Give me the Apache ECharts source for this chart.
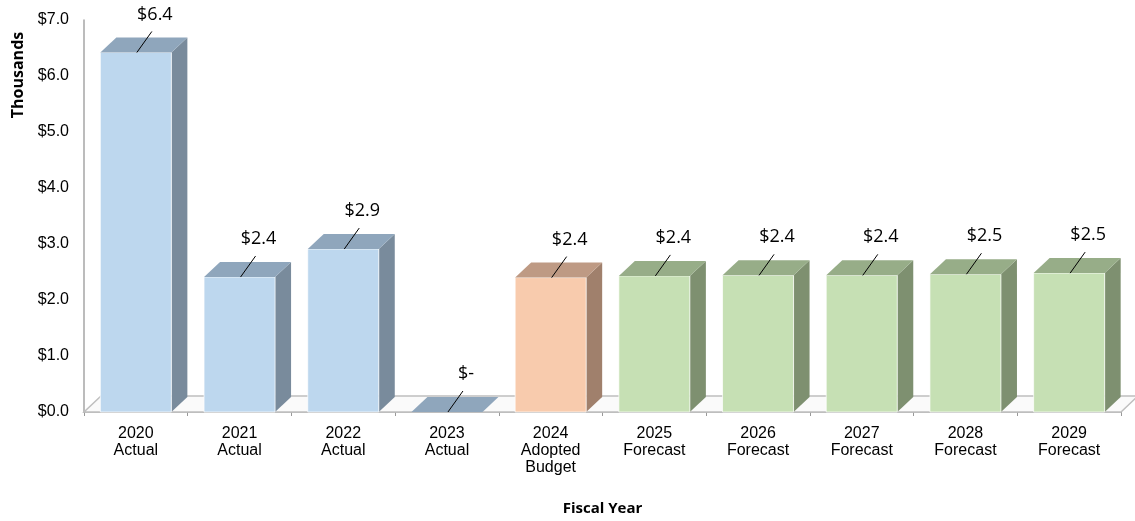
<!DOCTYPE html>
<html>
    <head>
        <meta charset="utf-8">
        <title>Fiscal Year</title>
        <script src="https://cdn.jsdelivr.net/npm/echarts@6/dist/echarts.min.js"></script>
    </head>
    <body style="margin:0">
        <div id="main" style="width:1135px;height:521px;"></div>
        <script type="text/javascript">
            // data (thousands of dollars)
            var years = ['2020', '2021', '2022', '2023', '2024', '2025', '2026', '2027', '2028', '2029'];
            var stages = ['Actual', 'Actual', 'Actual', 'Actual', 'Adopted\nBudget', 'Forecast', 'Forecast', 'Forecast', 'Forecast', 'Forecast'];
            var kinds = ['actual', 'actual', 'actual', 'actual', 'budget', 'forecast', 'forecast', 'forecast', 'forecast', 'forecast'];
            var values = [6.42, 2.41, 2.91, 0, 2.40, 2.43, 2.44, 2.44, 2.46, 2.48];
            var yTicks = [0, 1, 2, 3, 4, 5, 6, 7];

            var categories = years.map(function (y, i) { return y + '\n' + stages[i]; });

            var palette = {
                actual:   { front: '#BDD7EE', top: '#8FA6BC', side: '#798B9C' },
                budget:   { front: '#F8CBAD', top: '#BE9A84', side: '#A0806C' },
                forecast: { front: '#C6E0B4', top: '#97AD88', side: '#7E9070' }
            };
            var dx = 16, dy = -15;

            function money(v) {
                return v === 0 ? '$-' : '$' + v.toFixed(1);
            }

            function renderBar(params, api) {
                var idx = api.value(0);
                var val = api.value(1);
                var base = api.coord([idx, 0]);
                var top = api.coord([idx, val]);
                var w = api.size([1, 0])[0] * 0.685;
                var x0 = base[0] - w / 2, x1 = base[0] + w / 2;
                var yb = base[1], yt = top[1];
                var c = palette[kinds[idx]];
                var kids = [];
                if (yb - yt > 0.5) {
                    kids.push({
                        type: 'polygon',
                        shape: { points: [[x1, yb], [x1 + dx, yb + dy], [x1 + dx, yt + dy], [x1, yt]] },
                        style: { fill: c.side }
                    });
                    kids.push({
                        type: 'rect',
                        shape: { x: x0, y: yt, width: w, height: yb - yt },
                        style: { fill: c.front, stroke: 'rgba(255,255,255,0.7)', lineWidth: 1 }
                    });
                }
                kids.push({
                    type: 'polygon',
                    shape: { points: [[x0, yt], [x1, yt], [x1 + dx, yt + dy], [x0 + dx, yt + dy]] },
                    style: { fill: c.top }
                });
                var lx = base[0] + 19, ly = yt - 38;
                kids.push({
                    type: 'line',
                    shape: { x1: base[0] + 1, y1: yt, x2: lx - 3, y2: ly + 17 },
                    style: { stroke: '#000', lineWidth: 1 }
                });
                kids.push({
                    type: 'text',
                    x: lx, y: ly,
                    style: {
                        text: money(val),
                        fill: '#000',
                        font: '18px "Open Sans"',
                        align: 'center',
                        verticalAlign: 'middle'
                    }
                });
                return { type: 'group', children: kids };
            }

            function renderFloor(params, api) {
                var cs = params.coordSys;
                var xl = cs.x, xr = cs.x + cs.width, yb = cs.y + cs.height;
                return {
                    type: 'group',
                    children: [{
                        type: 'polygon',
                        shape: { points: [[xl, yb], [xr, yb], [xr + dx + 1, yb + dy - 1], [xl + dx + 1, yb + dy - 1]] },
                        style: { fill: '#fafafa', stroke: '#bfbfbf', lineWidth: 1.5 }
                    }]
                };
            }

            var myChart = echarts.init(document.getElementById('main'));
            var option = {
                animation: false,
                grid: { left: 84, right: 14, top: 20, bottom: 109, outerBoundsMode: 'none', containLabel: false },
                graphic: [{
                    type: 'text',
                    x: 18, y: 75,
                    rotation: Math.PI / 2,
                    style: {
                        text: 'Thousands',
                        font: 'bold 16px "Open Sans"',
                        fill: '#000',
                        align: 'center',
                        verticalAlign: 'middle'
                    }
                }],
                xAxis: {
                    type: 'category',
                    data: categories,
                    name: 'Fiscal Year',
                    nameLocation: 'middle',
                    nameGap: 89,
                    nameTextStyle: { fontFamily: 'Open Sans', fontWeight: 'bold', fontSize: 15, color: '#000' },
                    axisLine: { show: true, lineStyle: { color: '#bfbfbf', width: 2 } },
                    axisTick: { show: true, length: 4, lineStyle: { color: '#999' } },
                    axisLabel: {
                        interval: 0,
                        margin: 13,
                        fontFamily: 'Liberation Sans',
                        fontSize: 16,
                        lineHeight: 17,
                        color: '#000'
                    }
                },
                yAxis: {
                    type: 'value',
                    min: yTicks[0],
                    max: yTicks[yTicks.length - 1],
                    interval: 1,
                    axisLine: { show: true, lineStyle: { color: '#a6a6a6', width: 1.5 } },
                    axisTick: { show: false },
                    splitLine: { show: false },
                    axisLabel: {
                        margin: 15,
                        fontFamily: 'Liberation Sans',
                        fontSize: 16,
                        color: '#000',
                        formatter: function (v) { return '$' + v.toFixed(1); }
                    }
                },
                series: [{
                    type: 'custom',
                    z: 1,
                    silent: true,
                    clip: false,
                    renderItem: renderFloor,
                    data: [[0, 0]]
                }, {
                    type: 'custom',
                    z: 3,
                    clip: false,
                    renderItem: renderBar,
                    encode: { x: 0, y: 1 },
                    data: values.map(function (v, i) { return [i, v]; })
                }]
            };
            myChart.setOption(option);
        </script>
    </body>
</html>
